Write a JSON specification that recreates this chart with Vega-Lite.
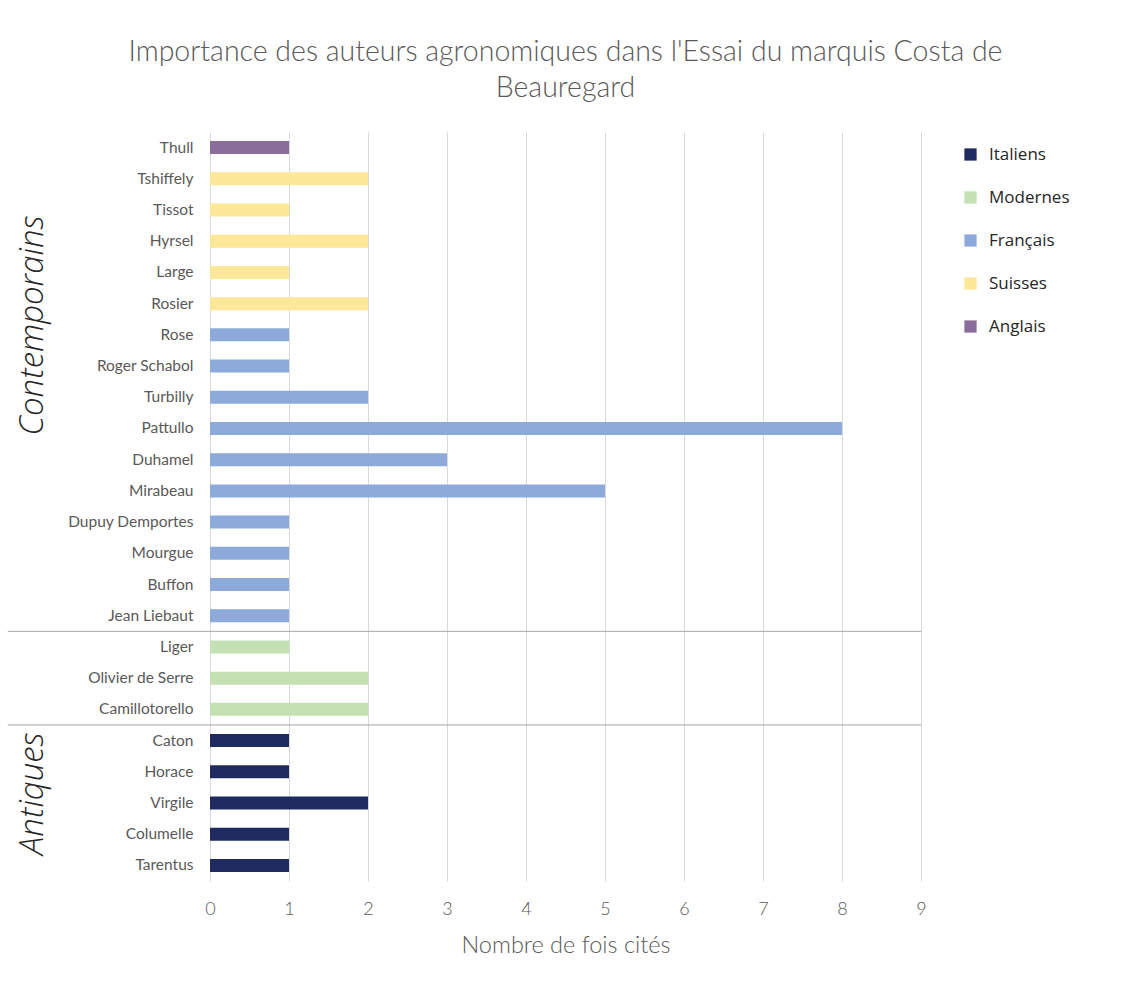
{
  "$schema": "https://vega.github.io/schema/vega-lite/v6.json",
  "autosize": {"type": "none"},
  "width": 711,
  "height": 749,
  "padding": {"left": 210, "top": 132, "right": 209, "bottom": 103},
  "background": "white",
  "title": {
    "text": ["Importance des auteurs agronomiques dans  l'Essai du marquis Costa de", "Beauregard"],
    "anchor": "middle",
    "frame": "group",
    "font": "Lato",
    "fontWeight": 300,
    "fontSize": 28.5,
    "lineHeight": 36,
    "color": "#595959",
    "offset": 30
  },
  "datasets": {
    "auteurs": [
      {"auteur": "Thull", "cites": 1, "nationalite": "Anglais"},
      {"auteur": "Tshiffely", "cites": 2, "nationalite": "Suisses"},
      {"auteur": "Tissot", "cites": 1, "nationalite": "Suisses"},
      {"auteur": "Hyrsel", "cites": 2, "nationalite": "Suisses"},
      {"auteur": "Large", "cites": 1, "nationalite": "Suisses"},
      {"auteur": "Rosier", "cites": 2, "nationalite": "Suisses"},
      {"auteur": "Rose", "cites": 1, "nationalite": "Français"},
      {"auteur": "Roger Schabol", "cites": 1, "nationalite": "Français"},
      {"auteur": "Turbilly", "cites": 2, "nationalite": "Français"},
      {"auteur": "Pattullo", "cites": 8, "nationalite": "Français"},
      {"auteur": "Duhamel", "cites": 3, "nationalite": "Français"},
      {"auteur": "Mirabeau", "cites": 5, "nationalite": "Français"},
      {"auteur": "Dupuy Demportes", "cites": 1, "nationalite": "Français"},
      {"auteur": "Mourgue", "cites": 1, "nationalite": "Français"},
      {"auteur": "Buffon", "cites": 1, "nationalite": "Français"},
      {"auteur": "Jean Liebaut", "cites": 1, "nationalite": "Français"},
      {"auteur": "Liger", "cites": 1, "nationalite": "Modernes"},
      {"auteur": "Olivier de Serre", "cites": 2, "nationalite": "Modernes"},
      {"auteur": "Camillotorello", "cites": 2, "nationalite": "Modernes"},
      {"auteur": "Caton", "cites": 1, "nationalite": "Italiens"},
      {"auteur": "Horace", "cites": 1, "nationalite": "Italiens"},
      {"auteur": "Virgile", "cites": 2, "nationalite": "Italiens"},
      {"auteur": "Columelle", "cites": 1, "nationalite": "Italiens"},
      {"auteur": "Tarentus", "cites": 1, "nationalite": "Italiens"}
    ],
    "separateurs": [
      {"premier": "Liger"},
      {"premier": "Caton"}
    ],
    "periodes": [
      {"periode": "Contemporains", "repere": "Rose"},
      {"periode": "Antiques", "repere": "Virgile"}
    ]
  },
  "layer": [
    {
      "data": {"name": "auteurs"},
      "mark": {"type": "bar", "size": 13},
      "encoding": {
        "y": {
          "field": "auteur",
          "type": "nominal",
          "sort": null,
          "scale": {"paddingInner": 0, "paddingOuter": 0},
          "axis": {
            "title": null,
            "ticks": false,
            "domain": false,
            "labelFont": "Lato",
            "labelFontSize": 15.5,
            "labelColor": "#595959",
            "labelPadding": 17
          }
        },
        "x": {
          "field": "cites",
          "type": "quantitative",
          "scale": {"domain": [0, 9], "nice": false},
          "axis": {
            "title": "Nombre de fois cités",
            "values": [0, 1, 2, 3, 4, 5, 6, 7, 8, 9],
            "format": "d",
            "labelOverlap": false,
            "labelFlush": false,
            "ticks": false,
            "domain": false,
            "grid": true,
            "gridColor": "#d9d9d9",
            "labelFont": "Lato",
            "labelFontWeight": 300,
            "labelFontSize": 18,
            "labelColor": "#595959",
            "labelPadding": 19,
            "titleFont": "Lato",
            "titleFontWeight": 300,
            "titleFontSize": 23.5,
            "titleColor": "#595959",
            "titlePadding": 15
          }
        },
        "color": {
          "field": "nationalite",
          "type": "nominal",
          "scale": {
            "domain": ["Italiens", "Modernes", "Français", "Suisses", "Anglais"],
            "range": ["#1f2b5e", "#c3e1b3", "#8eaadb", "#fde798", "#8a6d9a"]
          },
          "legend": {
            "title": null,
            "orient": "right",
            "offset": 27,
            "symbolType": "square",
            "symbolSize": 150,
            "symbolStrokeWidth": 0,
            "labelFont": "Open Sans",
            "labelFontSize": 17,
            "labelColor": "#262626",
            "labelOffset": 10,
            "rowPadding": 25,
            "padding": 14
          }
        }
      }
    },
    {
      "data": {"name": "separateurs"},
      "mark": {"type": "rule", "color": "#a6a6a6", "strokeWidth": 1, "clip": false},
      "encoding": {
        "y": {"field": "premier", "type": "nominal", "sort": null, "bandPosition": 0},
        "x": {"datum": -2.56},
        "x2": {"datum": 9}
      }
    },
    {
      "data": {"name": "periodes"},
      "mark": {
        "type": "text",
        "angle": 270,
        "align": "center",
        "baseline": "middle",
        "font": "Open Sans",
        "fontStyle": "italic",
        "fontWeight": 300,
        "fontSize": 33,
        "color": "#262626",
        "clip": false
      },
      "encoding": {
        "y": {"field": "repere", "type": "nominal", "sort": null, "bandPosition": 0.2},
        "x": {"datum": -2.24},
        "text": {"field": "periode"}
      }
    }
  ],
  "config": {
    "view": {"stroke": null}
  }
}
